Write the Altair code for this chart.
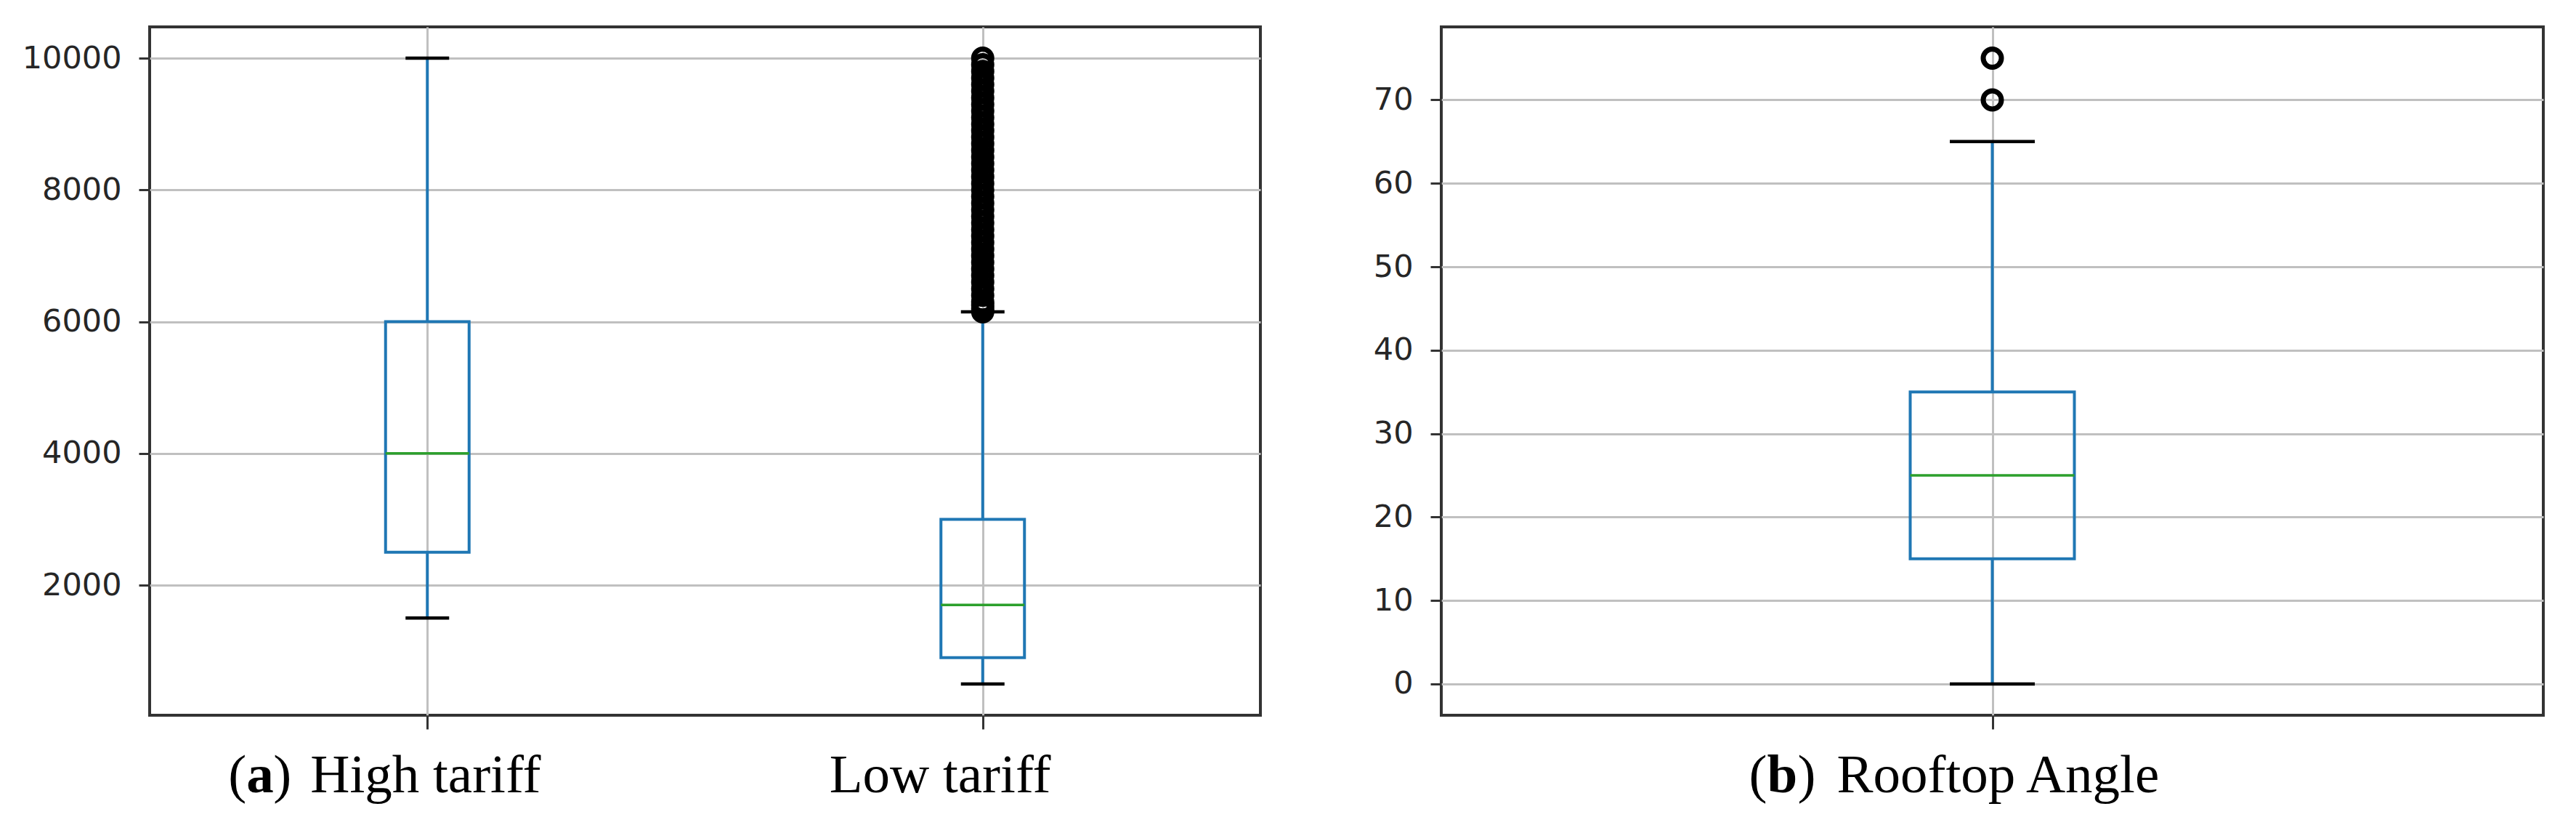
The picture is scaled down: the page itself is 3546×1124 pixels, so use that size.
import altair as alt
import pandas as pd

# ---------------- data: panel (a) ----------------
tariff_cats = ["High tariff", "Low tariff"]
tariff_lo = [1500, 500]
tariff_q1 = [2500, 900]
tariff_med = [4000, 1700]
tariff_q3 = [6000, 3000]
tariff_hi = [10000, 6150]
low_tariff_outliers = [6150, 6200, 6250, 6300, 6400, 6500, 6600, 6700, 6800, 6900,
                       7000, 7100, 7200, 7300, 7400, 7500, 7600, 7700, 7800, 7900,
                       8000, 8100, 8200, 8300, 8400, 8500, 8600, 8700, 8800, 8900,
                       9000, 9100, 9200, 9300, 9400, 9500, 9600, 9700, 9800, 9900, 10000]
tariff_ticks = [2000, 4000, 6000, 8000, 10000]
tariff_domain = [25, 10475]

# ---------------- data: panel (b) ----------------
angle_cats = ["Rooftop Angle"]
angle_lo = [0]
angle_q1 = [15]
angle_med = [25]
angle_q3 = [35]
angle_hi = [65]
angle_outliers = [70, 75]
angle_ticks = [0, 10, 20, 30, 40, 50, 60, 70]
angle_domain = [-3.75, 78.75]

BLUE = "#1f77b4"
GREEN = "#2ca02c"
H = 947


def panel(cats, lo, q1, med, q3, hi, out_cat, out_vals, domain, ticks, width,
          box_w, cap_w, pieces):
    stats = pd.DataFrame({"cat": cats, "lo": lo, "q1": q1, "med": med, "q3": q3, "hi": hi})
    caps = pd.DataFrame({"cat": cats + cats, "v": lo + hi})
    outs = pd.DataFrame({"cat": [out_cat] * len(out_vals), "v": out_vals})

    xenc = alt.X("cat:N", title=None,
                 scale=alt.Scale(type="point", domain=cats, padding=0.5),
                 axis=alt.Axis(labels=False, ticks=True, tickSize=19, grid=True,
                               domain=False, title=None))
    yscale = alt.Scale(domain=domain, nice=False, zero=False)
    yaxis = alt.Axis(values=ticks, tickSize=15, labelPadding=24, grid=True,
                     domain=False, title=None, format="d")

    base = alt.Chart(stats)
    box = base.mark_bar(fillOpacity=0, stroke=BLUE, strokeWidth=4, size=box_w).encode(
        x=xenc, y=alt.Y("q1:Q", scale=yscale, axis=yaxis, title=None), y2="q3:Q")
    wlo = base.mark_rule(color=BLUE, strokeWidth=4).encode(
        x=xenc, y=alt.Y("lo:Q", scale=yscale, axis=yaxis, title=None), y2="q1:Q")
    whi = base.mark_rule(color=BLUE, strokeWidth=4).encode(
        x=xenc, y=alt.Y("q3:Q", scale=yscale, axis=yaxis, title=None), y2="hi:Q")
    medm = base.mark_tick(color=GREEN, thickness=3.5, size=box_w, opacity=1).encode(
        x=xenc, y=alt.Y("med:Q", scale=yscale, axis=yaxis, title=None))
    capm = alt.Chart(caps).mark_tick(color="black", thickness=4.5, size=cap_w, opacity=1).encode(
        x=xenc, y=alt.Y("v:Q", scale=yscale, axis=yaxis, title=None))
    outm = alt.Chart(outs).mark_point(shape="circle", filled=False, stroke="black",
                                      strokeWidth=7, size=625, opacity=1).encode(
        x=xenc, y=alt.Y("v:Q", scale=yscale, axis=yaxis, title=None))

    layers = [box, wlo, whi, medm, capm, outm]
    for cat, txt, dx, bold in pieces:
        df = pd.DataFrame({"cat": [cat], "label": [txt]})
        t = alt.Chart(df).mark_text(align="left", baseline="alphabetic",
                                    font="Liberation Serif", fontSize=75,
                                    fontWeight="bold" if bold else "normal",
                                    color="black", dx=dx).encode(
            x=xenc, y=alt.value(1053), text="label:N")
        layers.append(t)
    return alt.layer(*layers).properties(width=width, height=H)


pieces_a = [("High tariff", "(", -274, False),
            ("High tariff", "a", -249, True),
            ("High tariff", ")", -212, False),
            ("High tariff", "High tariff", -161, False),
            ("Low tariff", "Low tariff", -211, False)]
pieces_b = [("Rooftop Angle", "(", -335, False),
            ("Rooftop Angle", "b", -310, True),
            ("Rooftop Angle", ")", -268, False),
            ("Rooftop Angle", "Rooftop Angle", -214, False)]

left = panel(tariff_cats, tariff_lo, tariff_q1, tariff_med, tariff_q3, tariff_hi,
             "Low tariff", low_tariff_outliers, tariff_domain, tariff_ticks, 1529,
             115, 60, pieces_a)
right = panel(angle_cats, angle_lo, angle_q1, angle_med, angle_q3, angle_hi,
              "Rooftop Angle", angle_outliers, angle_domain, angle_ticks, 1517,
              226, 117, pieces_b)

chart = alt.hconcat(left, right, spacing=151).properties(
    padding={"left": 20, "top": 27, "right": 0, "bottom": 0}
).configure_view(
    stroke="#333333", strokeWidth=4
).configure_axis(
    labelFont="DejaVu Sans", labelFontSize=43, labelColor="#262626",
    tickColor="#333333", tickWidth=3, gridColor="#c0c0c0", gridWidth=3
)

chart.save("out.html", embed_options={"renderer": "svg", "actions": False})
